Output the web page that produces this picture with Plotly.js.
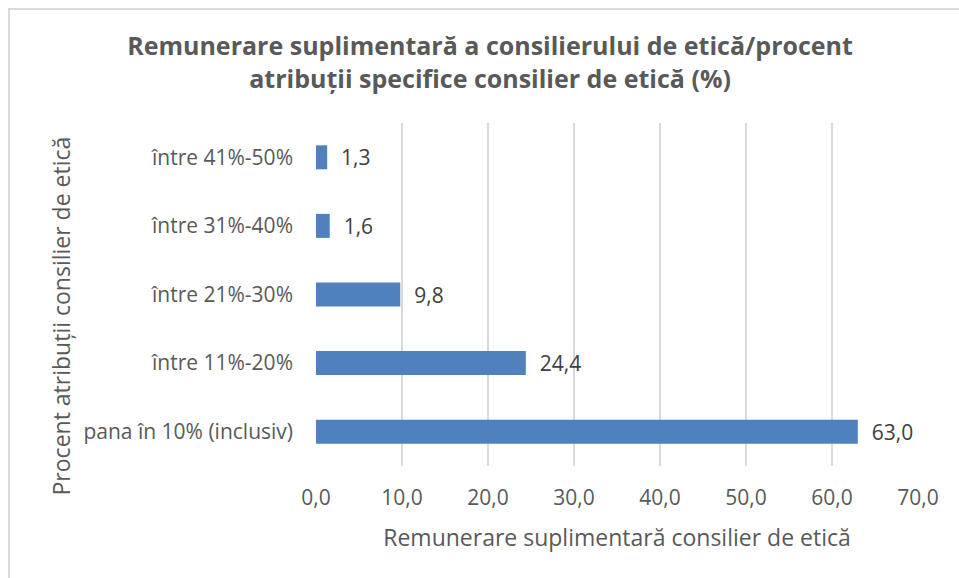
<!DOCTYPE html>
<html>
<head>
<meta charset="utf-8">
<script src="https://cdn.plot.ly/plotly-3.0.1.min.js"></script>
<style>
html,body{margin:0;padding:0;background:#fff;}
#wrap{position:relative;width:959px;height:578px;}
#chart{width:959px;height:578px;}
#frame{position:absolute;left:8px;top:8px;right:0;bottom:0;border-top:2px solid #d9d9d9;border-left:2px solid #d9d9d9;pointer-events:none;}
</style>
</head>
<body>
<div id="wrap"><div id="chart"></div><div id="frame"></div></div>
<script>
var categories = ["pana în 10% (inclusiv)", "între 11%-20%", "între 21%-30%", "între 31%-40%", "între 41%-50%"];
var values = [63.0, 24.4, 9.8, 1.6, 1.3];
var xTicks = [0, 10, 20, 30, 40, 50, 60, 70];

var fontFam = "'Open Sans', 'Noto Sans', sans-serif";
var grey = "#595959";

var trace = {
  type: "bar",
  orientation: "h",
  x: values,
  y: categories,
  marker: {color: "#4F81BD"},
  width: 0.35,
  text: values,
  texttemplate: "\u00a0\u00a0%{x:.1f}",
  textposition: "outside",
  constraintext: "none",
  cliponaxis: false,
  textfont: {family: fontFam, size: 21, color: "#404040"},
  hoverinfo: "none"
};

var layout = {
  width: 959, height: 578,
  margin: {l: 316, r: 41, t: 123, b: 112},
  paper_bgcolor: "#fff", plot_bgcolor: "#fff",
  separators: ",.",
  showlegend: false,
  title: {
    text: "Remunerare suplimentară a consilierului de etică/procent<br>atribuții specifice consilier de etică (%)",
    font: {family: fontFam, size: 25, color: grey, weight: "bold"},
    x: 0.511, xanchor: "center", y: 0.904, yanchor: "middle"
  },
  xaxis: {
    range: [0, 70],
    tickvals: xTicks,
    tickformat: ".1f",
    showgrid: true, gridcolor: "#d9d9d9", gridwidth: 1.5,
    zeroline: false, showline: false,
    ticks: "outside", ticklen: 13, tickcolor: "rgba(0,0,0,0)",
    tickfont: {family: fontFam, size: 21, color: grey},
    title: {text: "Remunerare suplimentară consilier de etică", font: {family: fontFam, size: 23, color: grey}, standoff: 19}
  },
  yaxis: {
    type: "category",
    range: [-0.5, 4.5],
    showgrid: false, zeroline: false, showline: false,
    ticks: "", ticklabelstandoff: 22,
    tickfont: {family: fontFam, size: 21, color: grey}
  },
  annotations: [{
    text: "Procent atribuții consilier de etică",
    textangle: -90,
    xref: "paper", yref: "paper",
    x: -0.423, y: 0.437,
    xanchor: "center", yanchor: "middle",
    showarrow: false,
    font: {family: fontFam, size: 23, color: grey}
  }]
};

Plotly.newPlot("chart", [trace], layout, {displayModeBar: false, staticPlot: true});
</script>
</body>
</html>
